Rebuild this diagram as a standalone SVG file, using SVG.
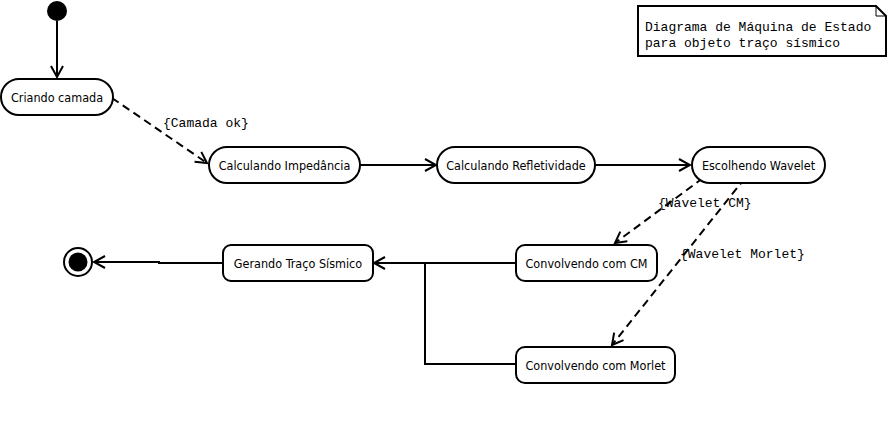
<svg xmlns="http://www.w3.org/2000/svg" width="888" height="444" viewBox="0 0 888 444">
<style>
.st{fill:#fff;stroke:#000;stroke-width:2}
.lbl{font-family:"DejaVu Sans Condensed","DejaVu Sans",Verdana,sans-serif;font-size:12.5px;fill:#000;text-anchor:middle}
.mono{font-family:"Liberation Mono","Courier New",monospace;font-size:13px;fill:#000}
.ln{fill:none;stroke:#000;stroke-width:2}
.dash{fill:none;stroke:#000;stroke-width:2;stroke-dasharray:8,5}
</style>
<defs>
<marker id="open" markerWidth="14" markerHeight="14" refX="12" refY="7" orient="auto" markerUnits="userSpaceOnUse">
<path d="M1,1 L12,7 L1,13" fill="none" stroke="#000" stroke-width="2"/>
</marker>
</defs>
<rect width="888" height="444" fill="#fff"/>
<g id="connectors">
<line class="ln" x1="57" y1="21" x2="57" y2="77" marker-end="url(#open)"/>
<line class="dash" x1="112" y1="98" x2="207" y2="163" marker-end="url(#open)"/>
<line class="ln" x1="360" y1="165" x2="436" y2="165" marker-end="url(#open)"/>
<line class="ln" x1="595" y1="165" x2="690" y2="165" marker-end="url(#open)"/>
<line class="dash" x1="703" y1="178" x2="615" y2="243" marker-end="url(#open)"/>
<line class="dash" x1="745" y1="178" x2="612" y2="345" marker-end="url(#open)"/>
<line class="ln" x1="516" y1="263" x2="374" y2="263" marker-end="url(#open)"/>
<polyline class="ln" points="516,364 425,364 425,263"/>
<polyline class="ln" points="223,263 159,263 159,262 94,262" marker-end="url(#open)"/>
<text class="mono" x="163" y="127">{Camada ok}</text>
<text class="mono" x="658" y="207">{Wavelet CM}</text>
<text class="mono" x="680" y="258">{Wavelet Morlet}</text>
</g>
<g id="initial"><circle cx="57" cy="11" r="10" fill="#000"/></g>
<g id="criando"><rect class="st" x="1" y="79" width="112" height="36" rx="18"/><text class="lbl" x="57" y="102">Criando camada</text></g>
<g id="impedancia"><rect class="st" x="209" y="147" width="151" height="36" rx="18"/><text class="lbl" x="284.5" y="170">Calculando Impedância</text></g>
<g id="refletividade"><rect class="st" x="437" y="147" width="158" height="36" rx="18"/><text class="lbl" x="516" y="170">Calculando Refletividade</text></g>
<g id="escolhendo"><rect class="st" x="692" y="147" width="133" height="36" rx="18"/><text class="lbl" x="758.5" y="170">Escolhendo Wavelet</text></g>
<g id="conv_cm"><rect class="st" x="516" y="245" width="141" height="36" rx="9"/><text class="lbl" x="586.5" y="268">Convolvendo com CM</text></g>
<g id="conv_morlet"><rect class="st" x="516" y="347" width="159" height="36" rx="9"/><text class="lbl" x="595.5" y="370">Convolvendo com Morlet</text></g>
<g id="gerando"><rect class="st" x="223" y="245" width="150" height="36" rx="8"/><text class="lbl" x="298" y="268">Gerando Traço Sísmico</text></g>
<g id="final"><circle cx="78" cy="262" r="14" fill="#fff" stroke="#000" stroke-width="2"/><circle cx="78" cy="262" r="9.5" fill="#000"/></g>
<g id="note">
<path d="M638,6 L876,6 L886,16 L886,56 L638,56 Z" fill="#fff" stroke="#000" stroke-width="2"/>
<path d="M876,6 L876,16 L886,16" fill="none" stroke="#000" stroke-width="1"/>
<text class="mono" x="645" y="31">Diagrama de Máquina de Estado</text>
<text class="mono" x="645" y="47">para objeto traço sísmico</text>
</g>
</svg>
